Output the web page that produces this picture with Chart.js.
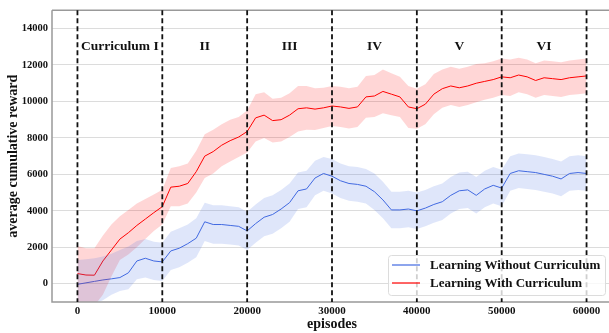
<!DOCTYPE html>
<html>
<head>
<meta charset="utf-8">
<script src="https://cdn.jsdelivr.net/npm/chart.js@4.4.0/dist/chart.umd.min.js"></script>
<style>
  html, body { margin: 0; padding: 0; background: #fff; overflow: hidden; }
  #wrap { width: 612px; height: 333px; }
</style>
</head>
<body>
<div id="wrap"><canvas id="chart"></canvas></div>
<script>
const episodes = [
  0, 1000, 2000, 3000, 4000, 5000, 6000, 7000, 8000, 9000,
  10000, 11000, 12000, 13000, 14000, 15000, 16000, 17000, 18000, 19000,
  20000, 21000, 22000, 23000, 24000, 25000, 26000, 27000, 28000, 29000,
  30000, 31000, 32000, 33000, 34000, 35000, 36000, 37000, 38000, 39000,
  40000, 41000, 42000, 43000, 44000, 45000, 46000, 47000, 48000, 49000,
  50000, 51000, 52000, 53000, 54000, 55000, 56000, 57000, 58000, 59000,
  60000,
];

// Learning With Curriculum
const withMean = [
  560, 480, 470, 1250, 1850, 2450, 2800, 3200, 3550, 3900,
  4230, 5300, 5350, 5500, 6150, 7000, 7250, 7600, 7850, 8050,
  8350, 9100, 9250, 8950, 9000, 9250, 9600, 9650, 9580, 9650,
  9750, 9700, 9620, 9700, 10250, 10300, 10550, 10400, 10250, 9700,
  9600, 9850, 10400, 10700, 10850, 10750, 10850, 11000, 11100, 11200,
  11350, 11300, 11450, 11350, 11150, 11300, 11250, 11200, 11300, 11350,
  11400,
];
const withUpper = [
  2070, 1950, 1950, 2650, 3250, 3700, 4050, 4400, 4650, 4900,
  5160, 6350, 6450, 6600, 7300, 8200, 8450, 8750, 9000, 9150,
  9500, 10400, 10500, 10150, 10200, 10450, 10850, 10850, 10730, 10750,
  10850, 10800, 10720, 10800, 11400, 11450, 11750, 11550, 11350, 10850,
  10700, 10950, 11500, 11750, 11900, 11800, 11900, 12050, 12100, 12200,
  12350, 12300, 12400, 12300, 12100, 12250, 12200, 12150, 12250, 12300,
  12350,
];
const withLower = [
  -1300, -1300, -1200, -600, 400, 1300, 1600, 2000, 2450, 2900,
  3250, 4250, 4250, 4400, 5000, 5800, 6050, 6450, 6700, 6950,
  7200, 7800, 8000, 7750, 7800, 8050, 8350, 8450, 8430, 8550,
  8650, 8600, 8520, 8600, 9100, 9150, 9350, 9250, 9150, 8550,
  8500, 8750, 9300, 9650, 9800, 9700, 9800, 9950, 10100, 10200,
  10350, 10300, 10500, 10400, 10200, 10350, 10300, 10250, 10350, 10400,
  10450,
];

// Learning Without Curriculum
const withoutMean = [
  -30, 50, 130, 210, 270, 340, 600, 1250, 1400, 1250,
  1200, 1800, 1950, 2200, 2500, 3400, 3250, 3250, 3200, 3150,
  2900, 3300, 3650, 3800, 4100, 4450, 5100, 5200, 5800, 6050,
  5900, 5650, 5500, 5450, 5350, 5050, 4600, 4050, 4050, 4100,
  4000, 4150, 4350, 4500, 4850, 5100, 5150, 4850, 5200, 5400,
  5250, 6050, 6200, 6150, 6100, 6000, 5900, 5750, 6050, 6100,
  6050,
];
const withoutUpper = [
  1300, 1350, 1400, 1500, 1650, 1850, 2050, 2350, 2450, 2300,
  2250, 2850, 3050, 3250, 3600, 4450, 4300, 4300, 4250, 4200,
  3950, 4350, 4700, 4850, 5150, 5500, 6100, 6200, 6750, 6950,
  6850, 6600, 6450, 6400, 6300, 6050, 5600, 5050, 5050, 5100,
  5000, 5150, 5350, 5500, 5850, 6100, 6150, 5850, 6200, 6400,
  6250, 7000, 7150, 7100, 7050, 6950, 6850, 6700, 7000, 7050,
  7000,
];
const withoutLower = [
  -1400, -1250, -1100, -900, -600, -400, -300, 250, 350, 200,
  150, 750, 900, 1150, 1450, 2350, 2200, 2200, 2150, 2100,
  1850, 2250, 2600, 2750, 3050, 3400, 4100, 4200, 4850, 5100,
  4950, 4700, 4550, 4500, 4400, 4050, 3600, 3050, 3050, 3100,
  3000, 3150, 3350, 3500, 3850, 4100, 4150, 3850, 4200, 4400,
  4250, 5100, 5250, 5200, 5150, 5050, 4950, 4800, 5100, 5150,
  5100,
];

const stageEdges = [0, 10000, 20000, 30000, 40000, 50000, 60000];
const stageNames = ["Curriculum I", "II", "III", "IV", "V", "VI"];
const xTicks = [0, 10000, 20000, 30000, 40000, 50000, 60000];
const yTicks = [0, 2000, 4000, 6000, 8000, 10000, 12000, 14000];

const SERIF = "'Liberation Serif', 'Times New Roman', serif";
const RED = "#ff0000";
const BLUE = "#4169e1";

function points(values) {
  return episodes.map((e, i) => ({ x: e, y: values[i] }));
}

function band(values, color, fillTo) {
  return {
    data: points(values),
    borderWidth: 0,
    pointRadius: 0,
    backgroundColor: color,
    fill: fillTo,
  };
}

// spines round the plot area
const framePlugin = {
  id: "frame",
  afterDatasetsDraw(chart) {
    const { ctx, chartArea } = chart;
    ctx.save();
    ctx.strokeStyle = "#999";
    ctx.lineWidth = 1.5;
    ctx.beginPath();
    ctx.moveTo(chartArea.left, chartArea.top);
    ctx.lineTo(chartArea.right + 2, chartArea.top);
    ctx.moveTo(chartArea.left, chartArea.top);
    ctx.lineTo(chartArea.left, chartArea.bottom);
    ctx.lineTo(chartArea.right + 2, chartArea.bottom);
    ctx.stroke();
    ctx.restore();
  },
};

// dashed stage boundaries and stage names
const stagePlugin = {
  id: "stages",
  afterDatasetsDraw(chart) {
    const { ctx, chartArea, scales } = chart;
    ctx.save();
    ctx.strokeStyle = "#111";
    ctx.lineWidth = 1.8;
    ctx.setLineDash([5, 3]);
    stageEdges.forEach((e) => {
      const x = scales.x.getPixelForValue(e);
      ctx.beginPath();
      ctx.moveTo(x, chartArea.top);
      ctx.lineTo(x, chartArea.bottom);
      ctx.stroke();
    });
    ctx.setLineDash([]);
    ctx.fillStyle = "#111";
    ctx.font = "bold 13.5px " + SERIF;
    ctx.textAlign = "center";
    ctx.textBaseline = "middle";
    const y = scales.y.getPixelForValue(13000);
    stageNames.forEach((name, i) => {
      const x = scales.x.getPixelForValue((stageEdges[i] + stageEdges[i + 1]) / 2);
      ctx.fillText(name, x, y);
    });
    ctx.restore();
  },
};

// legend box in the lower right corner of the plot
const legendPlugin = {
  id: "boxLegend",
  afterDraw(chart) {
    const { ctx, chartArea } = chart;
    const items = chart.data.datasets.filter((d) => d.label);
    const w = 217;
    const h = 40;
    const left = chartArea.right - 7 - w;
    const top = chartArea.bottom - 7 - h;
    ctx.save();
    ctx.fillStyle = "rgba(255,255,255,0.8)";
    ctx.strokeStyle = "#dcdcdc";
    ctx.lineWidth = 1;
    ctx.beginPath();
    ctx.roundRect(left + 0.5, top + 0.5, w, h, 3);
    ctx.fill();
    ctx.stroke();
    ctx.font = "bold 13px " + SERIF;
    ctx.textBaseline = "middle";
    ctx.textAlign = "left";
    items.forEach((d, i) => {
      const y = top + 10 + i * 18;
      ctx.strokeStyle = d.borderColor;
      ctx.lineWidth = 1.2;
      ctx.beginPath();
      ctx.moveTo(left + 4, y);
      ctx.lineTo(left + 32, y);
      ctx.stroke();
      ctx.fillStyle = "#111";
      ctx.fillText(d.label, left + 42, y + 1);
    });
    ctx.restore();
  },
};

const ctx = document.getElementById("chart").getContext("2d");
new Chart(ctx, {
  type: "line",
  data: {
    datasets: [
      band(withoutUpper, "rgba(65,105,225,0.17)", "+1"),
      band(withoutLower, "rgba(65,105,225,0.17)", false),
      band(withUpper, "rgba(255,0,0,0.16)", "+1"),
      band(withLower, "rgba(255,0,0,0.16)", false),
      {
        label: "Learning Without Curriculum",
        data: points(withoutMean),
        borderColor: BLUE,
        borderWidth: 1,
        pointRadius: 0,
        fill: false,
      },
      {
        label: "Learning With Curriculum",
        data: points(withMean),
        borderColor: RED,
        borderWidth: 1,
        pointRadius: 0,
        fill: false,
      },
    ],
  },
  options: {
    responsive: true,
    maintainAspectRatio: false,
    animation: false,
    layout: { padding: { top: 10, left: 0, right: 0, bottom: 0 } },
    plugins: {
      legend: { display: false },
      tooltip: { enabled: false },
    },
    scales: {
      x: {
        type: "linear",
        min: -3000,
        max: 63000,
        afterBuildTicks: (axis) => {
          axis.ticks = xTicks.map((v) => ({ value: v }));
        },
        afterFit: (axis) => {
          axis.height = 31;
        },
        grid: { display: false, drawTicks: false },
        border: { display: false },
        ticks: {
          padding: 3,
          maxRotation: 0,
          color: "#111",
          font: { family: SERIF, size: 11, weight: "bold" },
          callback: (v) => String(v),
        },
        title: {
          display: true,
          text: "episodes",
          color: "#111",
          padding: { top: 0, bottom: 0 },
          font: { family: SERIF, size: 14, weight: "bold" },
        },
      },
      y: {
        type: "linear",
        min: -1000,
        max: 15000,
        afterBuildTicks: (axis) => {
          axis.ticks = yTicks.map((v) => ({ value: v }));
        },
        afterFit: (axis) => {
          axis.width = 52;
        },
        grid: { color: "#dcdcdc", lineWidth: 1, drawTicks: false },
        border: { display: false },
        ticks: {
          padding: 4,
          color: "#111",
          font: { family: SERIF, size: 10.5, weight: "bold" },
          callback: (v) => String(v),
        },
        title: {
          display: true,
          text: "average cumulative reward",
          color: "#111",
          padding: { top: 5, bottom: 0 },
          font: { family: SERIF, size: 14, weight: "bold" },
        },
      },
    },
  },
  plugins: [framePlugin, stagePlugin, legendPlugin],
});
</script>
</body>
</html>
